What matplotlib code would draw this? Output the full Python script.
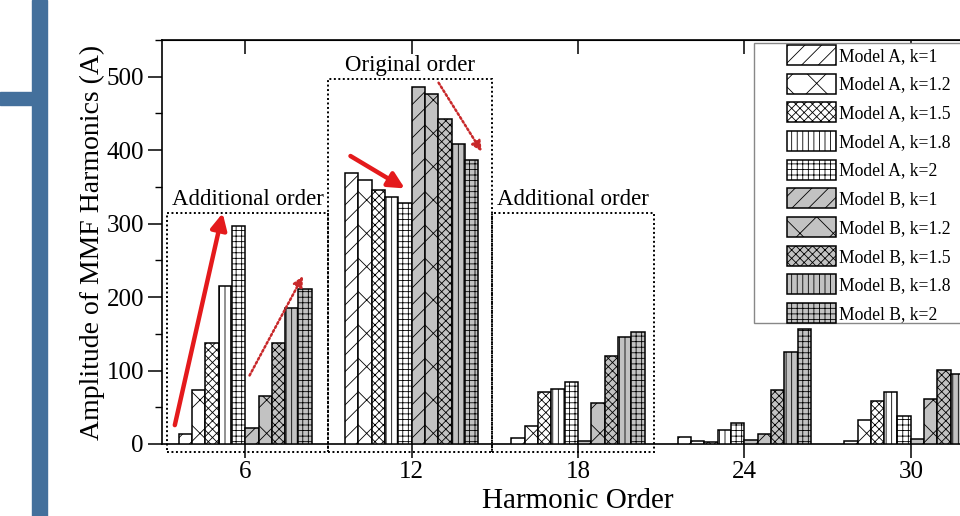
import numpy as np
import matplotlib
matplotlib.use('Agg')
import matplotlib.pyplot as plt
from matplotlib.patches import Rectangle

plt.rcParams['font.family'] = ['Liberation Serif', 'DejaVu Serif']
plt.rcParams['hatch.linewidth'] = 0.6

# Datos
orders = [6, 12, 18, 24, 30]
labels = ['Model A, k=1', 'Model A, k=1.2', 'Model A, k=1.5', 'Model A, k=1.8', 'Model A, k=2',
          'Model B, k=1', 'Model B, k=1.2', 'Model B, k=1.5', 'Model B, k=1.8', 'Model B, k=2']
model_a_k1 = [13, 369, 8, 9, 4]
model_a_k12 = [74, 359, 24, 4.5, 33]
model_a_k15 = [138, 346, 71, 3, 59]
model_a_k18 = [215, 336, 75, 19, 71]
model_a_k2 = [297, 328, 85, 29, 38]
model_b_k1 = [22, 486, 4.5, 6, 7]
model_b_k12 = [66, 476, 56, 13, 61]
model_b_k15 = [138, 442, 120, 73, 101]
model_b_k18 = [185, 409, 146, 125, 95]
model_b_k2 = [211, 386, 153, 157, 90]
series = [model_a_k1, model_a_k12, model_a_k15, model_a_k18, model_a_k2,
          model_b_k1, model_b_k12, model_b_k15, model_b_k18, model_b_k2]

hatches = ['//', 'x', 'xxxx', '|||', '+++', '//', 'x', 'xxxx', '|||', '+++']
fills = ['white'] * 5 + ['#c2c2c2'] * 5

# Figura
fig = plt.figure(figsize=(9.6, 5.16), dpi=100)
ax = fig.add_axes([162 / 960, 1 - 444 / 516, 832 / 960, 404 / 516])

w = 0.48
x = np.array(orders, dtype=float)
bars = []
for i, vals in enumerate(series):
    b = ax.bar(x + (i - 4.5) * w, vals, width=w, color=fills[i], edgecolor='black',
               linewidth=1.1, hatch=hatches[i], label=labels[i], zorder=3)
    bars.append(b)

ax.set_xlim(3, 33)
ax.set_ylim(0, 550)
ax.set_xticks(orders)
ax.set_yticks(range(0, 501, 100))
ax.set_yticks(range(50, 551, 100), minor=True)
ax.tick_params(axis='both', labelsize=18, width=1.1)
ax.tick_params(axis='x', which='major', direction='out', length=10, top=False, pad=2)
ax.tick_params(axis='y', which='major', direction='out', length=10, pad=3)
ax.tick_params(axis='y', which='minor', direction='out', length=5, width=1.0)
for s in ax.spines.values():
    s.set_linewidth(1.2)

# ticks superiores hacia adentro
sec = ax.secondary_xaxis('top')
sec.set_xticks(orders)
sec.tick_params(direction='in', length=10, width=1.1, labeltop=False)

ax.set_xlabel('Harmonic Order', fontsize=21, labelpad=4)
ax.set_ylabel('Amplitude of MMF Harmonics (A)', fontsize=20, labelpad=1)

# Cajas punteadas
boxes = [(3.19, 9.0, 315, 'Additional order'), (9.0, 14.9, 497, 'Original order'),
         (14.9, 20.75, 315, 'Additional order')]
for x0, x1, top, txt in boxes:
    ax.add_patch(Rectangle((x0, -11), x1 - x0, top + 11, fill=False, edgecolor='black',
                           linewidth=1.4, linestyle=(0, (1, 1.3)), clip_on=False, zorder=4))
    ax.text((x0 + x1) / 2, top + 4, txt, ha='center', va='bottom', fontsize=16.5, zorder=5)

# Flechas
red = '#e41a1c'
ax.annotate('', xy=(5.21, 318), xytext=(3.44, 22),
            arrowprops=dict(arrowstyle='-|>', color=red, lw=3.2, mutation_scale=24), zorder=6)
ax.annotate('', xy=(11.84, 346), xytext=(9.71, 394),
            arrowprops=dict(arrowstyle='-|>', color=red, lw=3.2, mutation_scale=24), zorder=6)
ax.annotate('', xy=(8.13, 232), xytext=(6.11, 90),
            arrowprops=dict(arrowstyle='-|>', color='#c8282a', lw=1.8, linestyle=(0, (0.8, 1)),
                            mutation_scale=15), zorder=6)
ax.annotate('', xy=(14.58, 395), xytext=(12.92, 495),
            arrowprops=dict(arrowstyle='-|>', color='#c8282a', lw=1.8, linestyle=(0, (0.8, 1)),
                            mutation_scale=15), zorder=6)

# Leyenda
leg = fig.legend(handles=bars, labels=labels, loc='upper left',
                 bbox_to_anchor=(787 / 960, 1 - 45 / 516), frameon=False, fontsize=12.7,
                 handlelength=2.8, handleheight=1.37, handletextpad=0.12, labelspacing=0.49,
                 borderpad=0, borderaxespad=0)
fig.add_artist(Rectangle((754 / 960, 1 - 323 / 516), 230 / 960, 280 / 516,
                         transform=fig.transFigure, facecolor='white', edgecolor='#888888',
                         linewidth=1.0, zorder=2))
leg.set_zorder(3)

# Barras azules decorativas
blue = '#44709c'
fig.add_artist(Rectangle((32 / 960, 0), 15 / 960, 1, transform=fig.transFigure, color=blue))
fig.add_artist(Rectangle((0, 1 - 105 / 516), 32 / 960, 13 / 516, transform=fig.transFigure,
                         color=blue))

fig.savefig('out.png', dpi=100)
